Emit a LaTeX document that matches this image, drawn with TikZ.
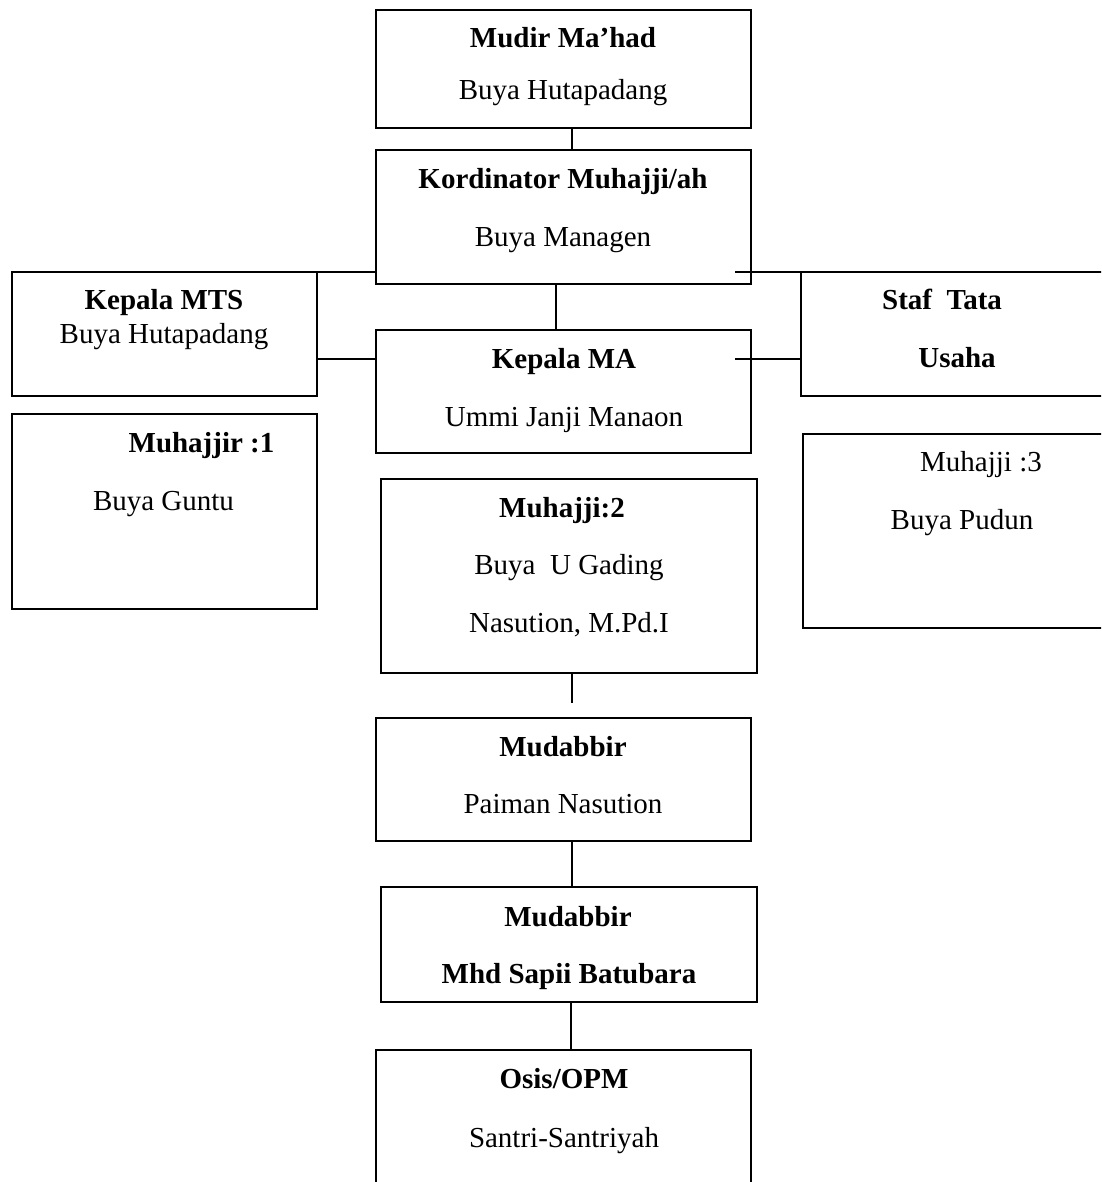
\documentclass[tikz,border=0pt]{standalone}
\usepackage{fontspec}
\setmainfont{Liberation Serif}
\usetikzlibrary{fit}

\tikzset{
	kotak/.style={draw, line width=1pt, inner sep=0pt, outer sep=0pt},
	teks/.style={inner sep=0pt, anchor=base, font=\fontsize{16.5}{20}\selectfont},
	garis/.style={line width=1pt}
}

\begin{document}
\begin{tikzpicture}[x=0.02cm, y=-0.02cm]
	\useasboundingbox (0,0) rectangle (1101,1182);
	\clip (0,0) rectangle (1101,1182);

	%kotak
	\node[kotak, fit={(376,10) (751,128)}] (mudir) {};
	\node[kotak, fit={(376,150) (751,284)}] (kord) {};
	\node[kotak, fit={(12,272) (317,396)}] (mts) {};
	\node[kotak, fit={(376,330) (751,453)}] (ma) {};
	\node[kotak, fit={(801,272) (1115,396)}] (staf) {};
	\node[kotak, fit={(12,414) (317,609)}] (muh1) {};
	\node[kotak, fit={(381,479) (757,673)}] (muh2) {};
	\node[kotak, fit={(803,434) (1115,628)}] (muh3) {};
	\node[kotak, fit={(376,718) (751,841)}] (mud1) {};
	\node[kotak, fit={(381,887) (757,1002)}] (mud2) {};
	\node[kotak, fit={(376,1050) (751,1200)}] (osis) {};

	%teks
	\node[teks] (mudirA) at (563,48) {\textbf{Mudir Ma’had}};
	\node[teks] (mudirB) at (563,100) {Buya Hutapadang};
	\node[teks] (kordA) at (563,189) {\textbf{Kordinator Muhajji/ah}};
	\node[teks] (kordB) at (563,247) {Buya Managen};
	\node[teks] (mtsA) at (164,310) {\textbf{Kepala MTS}};
	\node[teks] (mtsB) at (164,343) {Buya Hutapadang};
	\node[teks] (maA) at (564,368) {\textbf{Kepala MA}};
	\node[teks] (maB) at (564,426) {Ummi Janji Manaon};
	\node[teks] (stafA) at (942,310) {\textbf{Staf\ \ Tata}};
	\node[teks] (stafB) at (957,367) {\textbf{Usaha}};
	\node[teks] (muh1A) at (201.5,452) {\textbf{Muhajjir :1}};
	\node[teks] (muh1B) at (163.5,510) {Buya Guntu};
	\node[teks] (muh2A) at (562,517) {\textbf{Muhajji:2}};
	\node[teks] (muh2B) at (569,574) {Buya\ \ U Gading};
	\node[teks] (muh2C) at (569,632) {Nasution, M.Pd.I};
	\node[teks] (muh3A) at (981,471) {Muhajji :3};
	\node[teks] (muh3B) at (962,529) {Buya Pudun};
	\node[teks] (mud1A) at (563,756) {\textbf{Mudabbir}};
	\node[teks] (mud1B) at (563,813) {Paiman Nasution};
	\node[teks] (mud2A) at (568,926) {\textbf{Mudabbir}};
	\node[teks] (mud2B) at (569,983) {\textbf{Mhd Sapii Batubara}};
	\node[teks] (osisA) at (564,1088) {\textbf{Osis/OPM}};
	\node[teks] (osisB) at (564,1147) {Santri-Santriyah};

	%garis
	\coordinate (kanan1) at (735,272);
	\coordinate (kanan2) at (735,359);
	\coordinate (ujung) at (572,703);
	\draw[garis] (mudir.south -| 572,0) -- (kord.north -| 572,0);
	\draw[garis] (kord.south -| 556,0) -- (ma.north -| 556,0);
	\draw[garis] (mts.north east) -- (mts.north east -| kord.west);
	\draw[garis] (kanan1) -- (staf.north west);
	\draw[garis] (mts.east |- 0,359) -- (ma.west |- 0,359);
	\draw[garis] (kanan2) -- (staf.west |- kanan2);
	\draw[garis] (muh2.south -| ujung) -- (ujung);
	\draw[garis] (mud1.south -| 572,0) -- (mud2.north -| 572,0);
	\draw[garis] (mud2.south -| 571,0) -- (osis.north -| 571,0);
\end{tikzpicture}
\end{document}
